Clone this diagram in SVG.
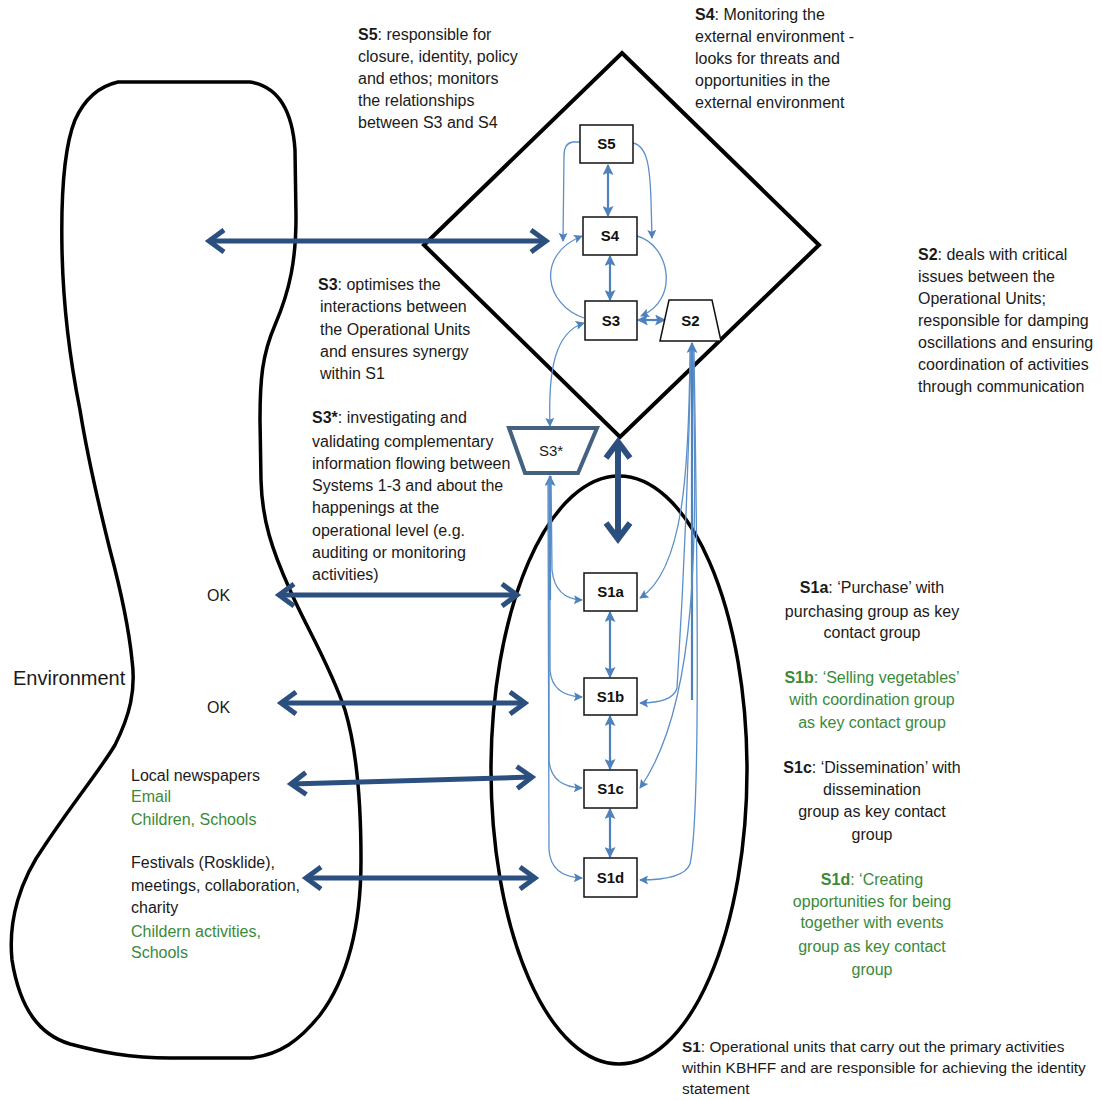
<svg xmlns="http://www.w3.org/2000/svg" width="1102" height="1100" viewBox="0 0 1102 1100">
<style>
.t{font-family:"Liberation Sans",Arial,sans-serif;font-size:16px;fill:#1a1a1a}
.g{fill:#3a8a3a}
.b{font-weight:bold}
.c{text-anchor:middle}
.lbl{font-family:"Liberation Sans",Arial,sans-serif;font-size:15px;font-weight:bold;fill:#111;text-anchor:middle}
.box{fill:#fff;stroke:#111;stroke-width:1.5}
.outline{fill:none;stroke:#000;stroke-width:3.5;stroke-linejoin:round}
.big{fill:none;stroke:#2b4f7e;stroke-width:5;marker-start:url(#chev);marker-end:url(#chev)}
.thin{fill:none;stroke:#5b8fc9;stroke-width:1.3}
.mid{fill:none;stroke:#4f81bd;stroke-width:2.2}
</style>
<defs>
<marker id="chev" viewBox="0 0 26 26" refX="22" refY="13" markerWidth="26" markerHeight="26" markerUnits="userSpaceOnUse" orient="auto-start-reverse" overflow="visible">
<path d="M7,2 L22,13 L7,24" fill="none" stroke="#2b4f7e" stroke-width="5"/>
</marker>
<marker id="chev2" viewBox="0 0 30 30" refX="24" refY="15" markerWidth="30" markerHeight="30" markerUnits="userSpaceOnUse" orient="auto-start-reverse" overflow="visible">
<path d="M8,3 L24,15 L8,27" fill="none" stroke="#2b4f7e" stroke-width="6"/>
</marker>
<marker id="ah" viewBox="0 0 10 10" refX="9" refY="5" markerWidth="10" markerHeight="9" markerUnits="userSpaceOnUse" orient="auto-start-reverse">
<path d="M0,0 L10,5 L0,10 L2,5 z" fill="#4f81bd"/>
</marker>
<marker id="ah2" viewBox="0 0 10 10" refX="9" refY="5" markerWidth="11" markerHeight="11" markerUnits="userSpaceOnUse" orient="auto-start-reverse">
<path d="M0,0 L10,5 L0,10 L2,5 z" fill="#4f81bd"/>
</marker>
</defs>
<rect width="1102" height="1100" fill="#fff"/>

<g id="environment">
<path class="outline" d="M118,82 L250,82 C275,86 292,105 295,150 L296,217 C296,260 290,290 275,325 C262,355 260,380 260,420 L261,480 C262,520 272,550 290,590 C305,625 330,665 345,710 C357,750 361,800 361,860 C361,920 350,975 320,1015 C300,1040 280,1055 250,1058 L170,1058 C130,1058 100,1052 70,1044 C40,1035 20,1010 12,960 C8,920 20,880 45,845 C75,800 100,770 115,745 C130,715 136,690 132,660 C128,620 118,580 110,550 C100,510 88,460 80,410 C70,360 63,300 62,250 C61,200 63,150 75,120 C85,98 100,86 118,82 Z"/>
<text class="t" x="13" y="685" style="font-size:20px">Environment</text>
</g>

<g id="s1-unit">
<ellipse cx="619" cy="770" rx="128" ry="294" fill="none" stroke="#000" stroke-width="3.5"/>
</g>

<g id="metasystem">
<polygon points="622,53 819,245 620,437 424,245" fill="none" stroke="#000" stroke-width="4" stroke-linejoin="miter"/>
</g>

<g id="connectors">
<path class="big" d="M209,241 L546,241"/>
<path class="big" d="M279,595 L517,595"/>
<path class="big" d="M281,703 L525,703"/>
<path class="big" d="M291,784 L532,777"/>
<path class="big" d="M306,878 L535,878"/>
<path d="M618,442 L618,539" fill="none" stroke="#2b4f7e" stroke-width="6" marker-start="url(#chev2)" marker-end="url(#chev2)"/>
<path class="mid" d="M608,165 L608,216" marker-start="url(#ah2)" marker-end="url(#ah2)"/>
<path class="mid" d="M610,256 L610,300" marker-start="url(#ah2)" marker-end="url(#ah2)"/>
<path class="thin" d="M580,142 L573,142 Q564,143 564,156 L563,241" marker-end="url(#ah)"/>
<path class="thin" d="M633,143 C648,146 650,170 651,200 L652,238" marker-end="url(#ah)"/>
<path class="thin" d="M584,318 C545,305 535,255 582,236" marker-end="url(#ah)"/>
<path class="thin" d="M637,236 C670,245 680,300 641,316" marker-end="url(#ah)"/>
<path class="mid" d="M638,320 L665,320" marker-start="url(#ah2)" marker-end="url(#ah2)"/>
<path class="thin" d="M550,426 C548,370 555,332 584,323" marker-start="url(#ah)" marker-end="url(#ah)"/>
<path class="mid" d="M550,476 L550,600" marker-start="url(#ah2)"/>
<path class="thin" d="M551,476 L552,570 Q555,599 582,600" marker-end="url(#ah)"/>
<path class="thin" d="M550,480 L550,670 Q552,696 582,697" marker-end="url(#ah)"/>
<path class="thin" d="M549,480 L549,760 Q551,787 582,788" marker-end="url(#ah)"/>
<path class="thin" d="M548,480 L549,850 Q551,877 582,878" marker-end="url(#ah)"/>
<path class="mid" d="M610,612 L610,677" marker-start="url(#ah2)" marker-end="url(#ah2)"/>
<path class="mid" d="M610,716 L610,769" marker-start="url(#ah2)" marker-end="url(#ah2)"/>
<path class="mid" d="M610,809 L610,857" marker-start="url(#ah2)" marker-end="url(#ah2)"/>
<path class="mid" d="M692,343 L692,700" marker-start="url(#ah2)"/>
<path class="thin" d="M690,350 C689,470 684,570 640,598" marker-end="url(#ah)"/>
<path class="thin" d="M691,350 C688,500 680,640 677,688 Q673,703 640,703" marker-end="url(#ah)"/>
<path class="thin" d="M693,350 C696,520 702,700 640,788" marker-end="url(#ah)"/>
<path class="thin" d="M694,350 C698,600 700,820 690,864 Q684,880 640,880" marker-end="url(#ah)"/>
</g>

<g id="node-s5"><rect class="box" x="580" y="125" width="53" height="38"/><text class="lbl" x="606.5" y="149">S5</text></g>
<g id="node-s4"><rect class="box" x="583" y="217" width="54" height="38"/><text class="lbl" x="610" y="241">S4</text></g>
<g id="node-s3"><rect class="box" x="585" y="301" width="52" height="39"/><text class="lbl" x="611" y="326">S3</text></g>
<g id="node-s2"><polygon class="box" points="669,300 712,300 721,341 660,341"/><text class="lbl" x="690.5" y="326">S2</text></g>
<g id="node-s3star"><polygon points="509,428 597,428 578,473 525,473" fill="#fff" stroke="#44617f" stroke-width="4" stroke-linejoin="miter"/><text class="t c" x="551" y="456" style="font-size:15px">S3*</text></g>
<g id="node-s1a"><rect class="box" x="584" y="573" width="53" height="38"/><text class="lbl" x="610.5" y="597">S1a</text></g>
<g id="node-s1b"><rect class="box" x="584" y="678" width="53" height="37"/><text class="lbl" x="610.5" y="702">S1b</text></g>
<g id="node-s1c"><rect class="box" x="584" y="770" width="53" height="38"/><text class="lbl" x="610.5" y="794">S1c</text></g>
<g id="node-s1d"><rect class="box" x="584" y="858" width="53" height="39"/><text class="lbl" x="610.5" y="883">S1d</text></g>

<g id="annotations">
<text class="t" x="358" y="40"><tspan class="b">S5</tspan>: responsible for</text>
<text class="t" x="358" y="62">closure, identity, policy</text>
<text class="t" x="358" y="84">and ethos; monitors</text>
<text class="t" x="358" y="106">the relationships</text>
<text class="t" x="358" y="128">between S3 and S4</text>

<text class="t" x="695" y="20"><tspan class="b">S4</tspan>: Monitoring the</text>
<text class="t" x="695" y="42">external environment -</text>
<text class="t" x="695" y="64">looks for threats and</text>
<text class="t" x="695" y="86">opportunities in the</text>
<text class="t" x="695" y="108">external environment</text>

<text class="t" x="918" y="260"><tspan class="b">S2</tspan>: deals with critical</text>
<text class="t" x="918" y="282">issues between the</text>
<text class="t" x="918" y="304">Operational Units;</text>
<text class="t" x="918" y="326">responsible for damping</text>
<text class="t" x="918" y="348">oscillations and ensuring</text>
<text class="t" x="918" y="370">coordination of activities</text>
<text class="t" x="918" y="392">through communication</text>

<text class="t" x="318" y="290"><tspan class="b">S3</tspan>: optimises the</text>
<text class="t" x="320" y="312">interactions between</text>
<text class="t" x="320" y="335">the Operational Units</text>
<text class="t" x="320" y="357">and ensures synergy</text>
<text class="t" x="320" y="379">within S1</text>

<text class="t" x="312" y="423"><tspan class="b">S3*</tspan>: investigating and</text>
<text class="t" x="312" y="447">validating complementary</text>
<text class="t" x="312" y="469">information flowing between</text>
<text class="t" x="312" y="491">Systems 1-3 and about the</text>
<text class="t" x="312" y="513">happenings at the</text>
<text class="t" x="312" y="536">operational level (e.g.</text>
<text class="t" x="312" y="558">auditing or monitoring</text>
<text class="t" x="312" y="580">activities)</text>

<text class="t" x="207" y="601">OK</text>
<text class="t" x="207" y="713">OK</text>

<text class="t" x="131" y="781">Local newspapers</text>
<text class="t g" x="131" y="802">Email</text>
<text class="t g" x="131" y="825">Children, Schools</text>

<text class="t" x="131" y="868">Festivals (Rosklide),</text>
<text class="t" x="131" y="891">meetings, collaboration,</text>
<text class="t" x="131" y="913">charity</text>
<text class="t g" x="131" y="937">Childern activities,</text>
<text class="t g" x="131" y="958">Schools</text>

<text class="t c" x="872" y="593"><tspan class="b">S1a</tspan>: ‘Purchase’ with</text>
<text class="t c" x="872" y="617">purchasing group as key</text>
<text class="t c" x="872" y="638">contact group</text>

<text class="t c g" x="872" y="683"><tspan class="b">S1b</tspan>: ‘Selling vegetables’</text>
<text class="t c g" x="872" y="705">with coordination group</text>
<text class="t c g" x="872" y="728">as key contact group</text>

<text class="t c" x="872" y="773"><tspan class="b">S1c</tspan>: ‘Dissemination’ with</text>
<text class="t c" x="872" y="795">dissemination</text>
<text class="t c" x="872" y="817">group as key contact</text>
<text class="t c" x="872" y="840">group</text>

<text class="t c g" x="872" y="885"><tspan class="b">S1d</tspan>: ‘Creating</text>
<text class="t c g" x="872" y="907">opportunities for being</text>
<text class="t c g" x="872" y="928">together with events</text>
<text class="t c g" x="872" y="952">group as key contact</text>
<text class="t c g" x="872" y="975">group</text>

<text class="t" x="682" y="1052" style="font-size:15.4px"><tspan class="b">S1</tspan>: Operational units that carry out the primary activities</text>
<text class="t" x="682" y="1073" style="font-size:15.4px">within KBHFF and are responsible for achieving the identity</text>
<text class="t" x="682" y="1094" style="font-size:15.4px">statement</text>
</g>
</svg>
